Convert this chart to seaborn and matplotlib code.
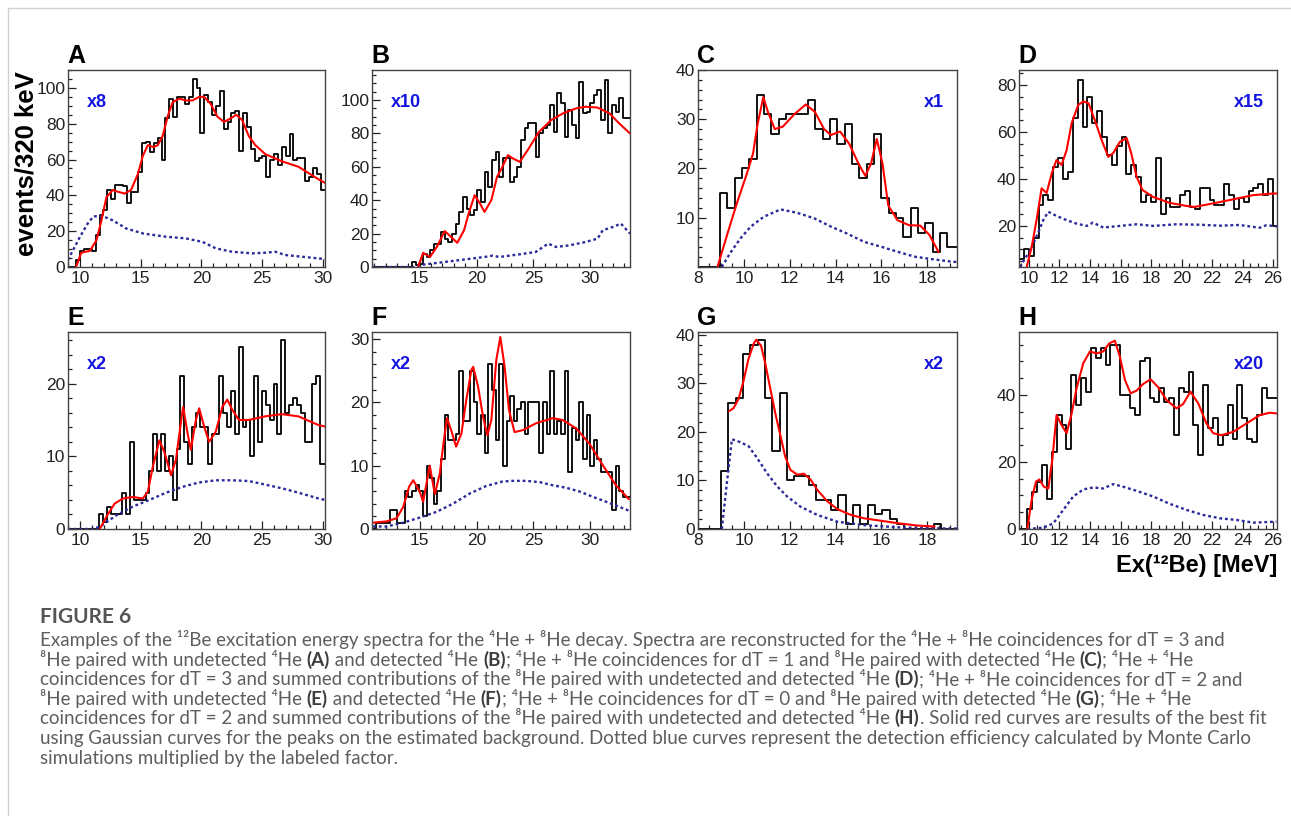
import re
import numpy as np
import pandas as pd
import matplotlib
matplotlib.use("Agg")
import matplotlib.pyplot as plt
import seaborn as sns
from matplotlib.ticker import MultipleLocator, FixedLocator
from matplotlib import font_manager
from matplotlib.lines import Line2D

BIN = 0.32  # MeV per bin (320 keV)

# ---------------- data ----------------
A_start = 9.04
A_counts = [0, 0, 4, 9, 10, 10, 9, 18, 29, 32, 43, 38, 46, 46, 45, 36, 42, 42, 53, 69, 70, 64, 69, 72, 60,
            83, 94, 84, 95, 95, 91, 95, 105, 100, 75, 96, 92, 85, 90, 98, 77, 81, 86, 87, 65, 86, 78, 66,
            59, 61, 62, 50, 60, 63, 57, 67, 62, 74, 60, 61, 61, 48, 50, 55, 52, 43]
A_fit_x = [9.66, 10.1, 10.8, 11.35, 11.76, 12.17, 12.7, 13.13, 13.67, 14.2, 14.77, 15.17, 15.58, 16.05,
           16.4, 16.8, 17.22, 17.63, 18.18, 18.73, 19.27, 19.82, 20.23, 20.78, 21.32, 21.87, 22.42, 22.88,
           23.37, 23.92, 24.46, 25.28, 26.65, 28.0, 29.66, 30.2]
A_fit_y = [0, 8, 9, 15, 26, 39, 43, 42, 41, 43, 52, 62, 68, 67, 68, 73, 84, 92, 94, 93, 93, 95, 95, 91,
           84, 81, 83, 85, 82, 73, 68, 63, 59, 56, 49, 47]
A_eff_x = [9.0, 10.0, 10.6, 11.1, 11.9, 12.7, 13.8, 15.2, 17.1, 18.7, 20.1, 21.2, 22.55, 24.2, 25.3,
           26.1, 26.9, 29.66, 30.2]
A_eff_y = [4, 17, 24, 28.3, 28.3, 26, 21.5, 18.7, 16.9, 16, 14, 10.4, 8.5, 7.6, 8, 8.5, 6.7, 4.8, 4.5]

B_start = 10.8
B_counts = [0, 0, 0, 0, 0, 0, 0, 0, 0, 0, 0, 3, 1, 2, 8, 6, 10, 14, 14, 21, 17, 15, 20, 26, 33, 42, 35,
            31, 34, 46, 39, 57, 48, 64, 69, 54, 65, 65, 51, 54, 60, 76, 83, 86, 86, 66, 80, 83, 85, 97,
            81, 104, 98, 78, 94, 85, 77, 111, 92, 93, 98, 103, 106, 88, 112, 80, 97, 93, 101, 89, 89]
B_fit_x = [14.85, 15.3, 15.9, 16.5, 17.2, 17.6, 18.3, 18.9, 19.3, 19.83, 20.3, 20.7, 21.3, 21.8, 22.2,
           22.76, 23.2, 23.8, 24.5, 25.5, 26.56, 27.6, 28.75, 29.6, 30.65, 31.7, 32.55, 33.5]
B_fit_y = [0, 8.5, 6, 12, 21.5, 19, 14.5, 22, 32, 43, 38, 33, 40, 54, 59, 67, 65, 63, 70, 81, 88, 92,
           95, 96, 95.5, 92, 86, 80]
B_eff_x = [10.8, 14.5, 15.0, 17.9, 20.9, 21.4, 22.0, 23.8, 25.2, 26.3, 27.0, 28.2, 29.6, 30.65, 31.1,
           32.0, 32.7, 33.5]
B_eff_y = [0, 0, 1.2, 3.6, 6.2, 6.8, 6.0, 7.6, 9, 14, 12, 13, 15, 17, 22, 24, 26, 20]

C_start = 8.0
C_counts = [0, 0, 0, 15, 12, 18, 20, 22, 35, 31, 27, 30, 31, 31, 31, 34, 28, 26, 30, 25, 29, 21, 18, 21,
            27, 14, 11, 10, 6, 12, 7, 9, 3, 7, 4, 4]
C_fit_x = [8.85, 9.3, 9.7, 10.1, 10.4, 10.6, 10.85, 11.05, 11.35, 11.7, 12.2, 12.7, 13.1, 13.5, 13.8,
           14.2, 14.6, 15.0, 15.3, 15.55, 15.8, 16.05, 16.3, 16.7, 17.2, 17.7, 18.1, 18.5]
C_fit_y = [0, 7, 13, 18.5, 23, 29, 34.5, 31.5, 28, 28.5, 31, 33, 31.5, 28, 26.8, 27.5, 25, 21, 18.5,
           21, 26, 21, 12.5, 9.5, 8.5, 8.4, 6.5, 3]
C_eff_x = [9.04, 9.4, 9.85, 10.3, 10.87, 11.6, 12.33, 13.06, 13.8, 14.5, 15.25, 16.0, 16.7, 17.45,
           18.2, 19.05, 19.3]
C_eff_y = [0, 2.8, 5.8, 8.2, 10.2, 11.7, 11, 9.9, 8.2, 6.8, 5.1, 4.1, 3.1, 2.1, 1.6, 1.1, 1.0]

D_start = 9.35
D_counts = [6, 10, 7, 15, 29, 33, 31, 45, 49, 40, 43, 66, 82, 62, 75, 64, 69, 58, 50, 46, 54, 58, 42,
            46, 41, 30, 33, 30, 49, 25, 32, 28, 28, 33, 35, 28, 27, 36, 36, 31, 29, 29, 38, 33, 27, 32,
            30, 35, 36, 38, 33, 40, 20]
D_fit_x = [9.85, 10.18, 10.5, 10.83, 11.16, 11.5, 11.8, 12.14, 12.47, 12.8, 13.23, 13.56, 13.9, 14.32,
           14.76, 15.2, 15.52, 15.96, 16.4, 16.7, 17.05, 17.44, 18.14, 19.23, 20.32, 20.86, 22.07,
           23.37, 24.68, 26.0, 26.25]
D_fit_y = [2.5, 11, 22.5, 36, 34, 42.5, 48, 46, 52.3, 63.8, 71.5, 73, 72.3, 65, 56.6, 49.4, 51, 55.8,
           57.4, 51, 41, 35.3, 32.3, 29.8, 28.5, 28.1, 29.6, 31.3, 33.1, 33.8, 33.8]
D_eff_x = [9.4, 10.07, 10.6, 10.94, 11.27, 11.6, 12.25, 13.1, 13.78, 14.2, 14.87, 15.96, 17.05, 18.14,
           19.67, 21.2, 22.5, 23.8, 25.1, 25.56, 26.25]
D_eff_y = [2.5, 9.5, 17, 22.5, 26, 24.9, 23, 21, 20, 21.4, 19.3, 20, 20.7, 20, 20.7, 20.5, 20.1, 20.4,
           19.2, 20.3, 19.8]

E_start = 9.0
E_counts = [0, 0, 0, 0, 0, 0, 0, 0, 2, 1, 3, 2, 2, 2, 5, 2, 12, 4, 4, 4, 5, 8, 13, 8, 13, 8, 10, 4, 11,
            21, 12, 9, 14, 16, 14, 14, 9, 13, 13, 21, 16, 14, 19, 13, 25, 14, 15, 10, 21, 12, 19, 17,
            15, 20, 13, 26, 16, 17, 18, 17, 16, 12, 12, 20, 21, 9, 9]
E_fit_x = [11.62, 12.17, 12.85, 13.54, 14.36, 15.17, 15.58, 16.0, 16.54, 16.95, 17.5, 17.9, 18.4, 18.5,
           18.86, 19.13, 19.55, 19.82, 20.23, 20.64, 21.19, 21.73, 22.14, 22.55, 23.1, 23.92, 25.28,
           26.65, 28.0, 29.66, 30.2]
E_fit_y = [0, 1.7, 3.5, 4.2, 4.4, 4.2, 5.1, 8.6, 12.2, 10.6, 7.4, 9.5, 15.7, 16.8, 13.2, 10.9, 15, 16.6,
           14.1, 12, 13.4, 16.8, 17.8, 16.4, 15, 15, 15.5, 15.8, 15.5, 14.3, 14.1]
E_eff_x = [9.0, 10.9, 11.62, 13.0, 14.36, 15.72, 17.1, 18.45, 19.8, 21.2, 22.55, 23.9, 25.3, 26.65,
           28.0, 29.66, 30.2]
E_eff_y = [0, 0, 0.3, 1.9, 3.1, 4, 5, 5.8, 6.4, 6.7, 6.7, 6.6, 6.1, 5.6, 5, 4.2, 4]

F_start = 10.8
F_counts = [0, 1, 1, 1, 1, 3, 3, 1, 1, 6, 5, 6, 7, 6, 2, 10, 8, 4, 6, 11, 18, 14, 14, 15, 25, 17, 17,
            25, 20, 15, 18, 12, 26, 22, 14, 26, 10, 17, 21, 17, 19, 20, 15, 20, 20, 20, 12, 20, 15, 25,
            15, 17, 15, 25, 9, 16, 14, 20, 11, 18, 10, 14, 11, 9, 9, 9, 3, 10, 6, 5, 5]
F_fit_x = [10.9, 12.1, 12.96, 13.55, 14.07, 14.43, 15.0, 15.3, 15.65, 15.88, 16.33, 16.77, 17.12, 17.4,
           17.8, 18.2, 18.67, 19.1, 19.54, 19.7, 20.13, 20.57, 20.95, 21.3, 21.74, 22.09, 22.47, 22.85,
           23.34, 24.07, 25.24, 26.7, 27.58, 28.75, 29.92, 31.1, 32.26, 33.4]
F_fit_y = [1, 1.2, 1.7, 3.5, 6.7, 7.7, 5.9, 4.3, 7.7, 10.0, 5.5, 8.8, 14, 17.5, 15.4, 13, 15.1, 20.4,
           25.1, 25.6, 22.5, 17.7, 14.8, 17.2, 26.7, 30.3, 25.6, 18.8, 15.3, 15.6, 16.7, 17.5, 17.2,
           15.9, 13.5, 10.1, 6.9, 4.7]
F_eff_x = [10.9, 12.1, 13.55, 15.0, 16.47, 17.93, 19.4, 20.86, 22.3, 23.2, 24.37, 25.55, 26.7, 27.9,
           29.1, 30.2, 31.4, 32.55, 33.4]
F_eff_y = [0.4, 0.4, 1, 1.8, 2.7, 4, 5.6, 6.8, 7.5, 7.6, 7.6, 7.4, 6.9, 6.5, 5.9, 5.1, 4.3, 3.5, 2.9]

G_start = 8.04
G_counts = [0, 0, 0, 12, 26, 27, 36, 38, 39, 27, 16, 28, 10, 11, 11, 9, 6, 6, 4, 7, 1, 5, 1, 5, 3, 4, 2,
            1, 0, 0, 0, 0, 1, 0, 0, 0]
G_fit_x = [9.36, 9.55, 9.77, 9.99, 10.2, 10.43, 10.54, 10.75, 10.94, 11.16, 11.38, 11.6, 11.8, 12.03,
           12.33, 12.62, 12.91, 13.2, 13.64, 14.08, 14.67, 15.25, 15.98, 16.71, 17.59, 18.32]
G_fit_y = [24.3, 24.9, 26.8, 30.6, 35, 38.2, 39, 37.8, 34, 28.8, 23.7, 19.2, 15, 12.2, 11.2, 11.4, 10.2,
           8.1, 5.7, 4.1, 2.9, 2.2, 1.7, 1.2, 0.7, 0.5]
G_eff_x = [9.04, 9.26, 9.48, 9.84, 10.2, 10.57, 11.01, 11.45, 11.89, 12.47, 13.2, 14.08, 15.25, 16.71,
           18.18, 19.3]
G_eff_y = [0, 9.5, 18.5, 17.9, 17.1, 14.7, 11.5, 8.8, 6.7, 4.6, 2.9, 1.5, 0.8, 0.35, 0.15, 0.1]

H_start = 9.26
H_counts = [0, 0, 6, 11, 14, 19, 9, 23, 34, 31, 24, 46, 37, 45, 41, 54, 51, 54, 49, 55, 55, 40, 40, 36,
            34, 50, 51, 39, 38, 42, 38, 39, 28, 42, 41, 47, 31, 22, 43, 30, 33, 25, 28, 37, 27, 43, 33,
            27, 26, 34, 42, 39, 39]
H_fit_x = [9.89, 10.18, 10.46, 10.68, 10.98, 11.27, 11.53, 11.81, 12.14, 12.47, 12.8, 13.12, 13.56,
           14.0, 14.43, 14.87, 15.26, 15.63, 15.96, 16.29, 16.66, 17.05, 17.49, 17.97, 18.47, 19.01,
           19.67, 20.1, 20.58, 21.09, 21.63, 22.07, 22.61, 23.38, 24.25, 25.12, 25.78, 26.21]
H_fit_y = [0, 8.7, 14.1, 14.8, 12.6, 12.1, 20.6, 34, 31, 28.6, 34.5, 42, 49.5, 53, 52.4, 53, 55.4, 56.2,
           51.4, 44.5, 40.5, 41.3, 43.3, 44.7, 42.3, 38.5, 36, 37.3, 41, 37.5, 31.5, 28.6, 28, 29, 31.5,
           34, 34.7, 34.5]
H_eff_x = [9.9, 10.94, 11.6, 12.25, 12.9, 13.56, 14.21, 14.87, 15.52, 16.18, 17.05, 18.14, 19.23,
           20.32, 21.41, 22.5, 23.6, 24.7, 26.21]
H_eff_y = [0, 0.4, 1.7, 5.7, 9.7, 11.8, 12.4, 12.1, 13.4, 12.6, 11.4, 9.7, 7.5, 5.7, 4.2, 3.2, 2.7, 1.9,
           2.2]

FACTORS = ["x8", "x10", "x1", "x15", "x2", "x2", "x2", "x20"]
LETTERS = ["A", "B", "C", "D", "E", "F", "G", "H"]

CAPTION_TITLE = "FIGURE 6"
CAPTION_LINES = [
    "Examples of the ¹²Be excitation energy spectra for the ⁴He + ⁸He decay. Spectra are reconstructed for the ⁴He + ⁸He coincidences for dT = 3 and",
    "⁸He paired with undetected ⁴He [[(A)]] and detected ⁴He [[(B)]]; ⁴He + ⁸He coincidences for dT = 1 and ⁸He paired with detected ⁴He [[(C)]]; ⁴He + ⁴He",
    "coincidences for dT = 3 and summed contributions of the ⁸He paired with undetected and detected ⁴He [[(D)]]; ⁴He + ⁸He coincidences for dT = 2 and",
    "⁸He paired with undetected ⁴He [[(E)]] and detected ⁴He [[(F)]]; ⁴He + ⁸He coincidences for dT = 0 and ⁸He paired with detected ⁴He [[(G)]]; ⁴He + ⁴He",
    "coincidences for dT = 2 and summed contributions of the ⁸He paired with undetected and detected ⁴He [[(H)]]. Solid red curves are results of the best fit",
    "using Gaussian curves for the peaks on the estimated background. Dotted blue curves represent the detection efficiency calculated by Monte Carlo",
    "simulations multiplied by the labeled factor.",
]

# ---------------- styling / layout ----------------
sns.set_theme(style="ticks")
plt.rcParams["font.family"] = ["Liberation Sans", "DejaVu Sans"]

W, H = 1291, 816
fig = plt.figure(figsize=(W / 100, H / 100), dpi=100)
fig.patch.set_facecolor("white")

data = {
    "A": (A_start, A_counts, A_fit_x, A_fit_y, A_eff_x, A_eff_y),
    "B": (B_start, B_counts, B_fit_x, B_fit_y, B_eff_x, B_eff_y),
    "C": (C_start, C_counts, C_fit_x, C_fit_y, C_eff_x, C_eff_y),
    "D": (D_start, D_counts, D_fit_x, D_fit_y, D_eff_x, D_eff_y),
    "E": (E_start, E_counts, E_fit_x, E_fit_y, E_eff_x, E_eff_y),
    "F": (F_start, F_counts, F_fit_x, F_fit_y, F_eff_x, F_eff_y),
    "G": (G_start, G_counts, G_fit_x, G_fit_y, G_eff_x, G_eff_y),
    "H": (H_start, H_counts, H_fit_x, H_fit_y, H_eff_x, H_eff_y),
}

lefts = [68, 372, 698, 1019]
widths = [257, 258, 259, 258]
tops = [70, 332]
AX_H = 197

cfg = {
    "A": dict(xlim=(9.0, 30.2), ylim=(0, 110), xmaj=5, xmin=1, ymaj=20, ymin=5, yt=None, fside="left"),
    "B": dict(xlim=(10.8, 33.5), ylim=(0, 118), xmaj=5, xmin=1, ymaj=20, ymin=5, yt=None, fside="left"),
    "C": dict(xlim=(8.0, 19.3), ylim=(0, 40), xmaj=2, xmin=0.5, ymaj=10, ymin=2, yt=[10, 20, 30, 40], fside="right"),
    "D": dict(xlim=(9.35, 26.25), ylim=(2.5, 86.4), xmaj=2, xmin=0.5, ymaj=20, ymin=5, yt=None, fside="right"),
    "E": dict(xlim=(9.0, 30.2), ylim=(0, 27.1), xmaj=5, xmin=1, ymaj=10, ymin=2, yt=None, fside="left"),
    "F": dict(xlim=(10.8, 33.5), ylim=(0, 31.1), xmaj=5, xmin=1, ymaj=10, ymin=2, yt=None, fside="left"),
    "G": dict(xlim=(8.0, 19.3), ylim=(0, 40.6), xmaj=2, xmin=0.5, ymaj=10, ymin=2, yt=None, fside="right"),
    "H": dict(xlim=(9.35, 26.25), ylim=(0, 58.8), xmaj=2, xmin=0.5, ymaj=20, ymin=5, yt=None, fside="right"),
}

EFF_COLOR = "#2a2a9a"
FACT_COLOR = "#1515e0"

for i, key in enumerate(LETTERS):
    row, col = divmod(i, 4)
    l, w, t = lefts[col], widths[col], tops[row]
    ax = fig.add_axes([l / W, 1 - (t + AX_H) / H, w / W, AX_H / H])
    start, counts, fx, fy, ex, ey = data[key]
    nb = len(counts)
    centers = start + BIN * (np.arange(nb) + 0.5)
    df = pd.DataFrame({"E": centers, "n": np.asarray(counts, dtype=float)})
    sns.histplot(data=df, x="E", weights="n", binwidth=BIN,
                 binrange=(start, start + nb * BIN), element="step", fill=False,
                 color="black", linewidth=1.3, ax=ax)
    sns.lineplot(x=ex, y=ey, color=EFF_COLOR, linewidth=1.7, linestyle=(0, (1.2, 1.2)),
                 ax=ax, sort=False, estimator=None)
    sns.lineplot(x=fx, y=fy, color="red", linewidth=1.5, ax=ax, sort=False, estimator=None)
    c = cfg[key]
    ax.set_xlim(*c["xlim"])
    ax.set_ylim(*c["ylim"])
    ax.set_xlabel("")
    ax.set_ylabel("")
    ax.xaxis.set_major_locator(MultipleLocator(c["xmaj"]))
    ax.xaxis.set_minor_locator(MultipleLocator(c["xmin"]))
    if c["yt"] is not None:
        ax.yaxis.set_major_locator(FixedLocator(c["yt"]))
    else:
        ax.yaxis.set_major_locator(MultipleLocator(c["ymaj"]))
    ax.yaxis.set_minor_locator(MultipleLocator(c["ymin"]))
    ax.tick_params(which="both", direction="in", top=False, right=False, colors="#222222",
                   labelsize=12.5, width=0.9)
    ax.tick_params(which="major", length=6)
    ax.tick_params(which="minor", length=3)
    ax.tick_params(axis="y", pad=2)
    ax.tick_params(axis="x", pad=3)
    for s in ax.spines.values():
        s.set_color("#444444")
        s.set_linewidth(1.0)
    ax.grid(False)
    if c["fside"] == "left":
        ax.text(0.075, 0.835, FACTORS[i], transform=ax.transAxes, ha="left", va="center",
                fontsize=13, fontweight="bold", color=FACT_COLOR)
    else:
        ax.text(0.95, 0.835, FACTORS[i], transform=ax.transAxes, ha="right", va="center",
                fontsize=13, fontweight="bold", color=FACT_COLOR)
    fig.text((l - 1) / W, 1 - (t - 7) / H, key, ha="left", va="baseline", fontsize=18,
             fontweight="bold", color="black")

fig.text(27 / W, 1 - 164 / H, "events/320 keV", rotation=90, ha="center", va="center",
         fontsize=18.5, fontweight="bold", color="black")
fig.text(1277 / W, 1 - 572 / H, "Ex(¹²Be) [MeV]", ha="right", va="baseline",
         fontsize=17, fontweight="bold", color="black")

# page frame lines
fig.add_artist(Line2D([7.5 / W, 7.5 / W], [0, 1 - 8 / H], transform=fig.transFigure,
                      color="#d0d0d0", linewidth=1.0))
fig.add_artist(Line2D([7.5 / W, 1], [1 - 8 / H, 1 - 8 / H], transform=fig.transFigure,
                      color="#d0d0d0", linewidth=1.0))

# ---------------- caption ----------------
names = {f.name for f in font_manager.fontManager.ttflist}
cap_font = "Lato" if "Lato" in names else "Open Sans"
cap_family = [cap_font, "DejaVu Sans"]
renderer = fig.canvas.get_renderer()


def split_runs(line):
    parts = re.split(r"\[\[(.*?)\]\]", line)
    return [(p, j % 2 == 1) for j, p in enumerate(parts) if p]


def draw_line(x0, y0, line, size, draw=True):
    x = x0
    objs = []
    for txt, bold in split_runs(line):
        tt = fig.text(x / W, 1 - y0 / H, txt, ha="left", va="baseline", fontsize=size,
                      family=cap_family, fontweight="bold" if bold else "normal",
                      color="#3c3c3c" if bold else "#5e5e5e")
        bb = tt.get_window_extent(renderer)
        x += bb.width
        objs.append(tt)
    if not draw:
        for o in objs:
            o.remove()
    return x - x0


X0 = 40
test_size = 10.0
w_test = draw_line(X0, 700, CAPTION_LINES[4], test_size, draw=False)
cap_size = test_size * 1232.0 / w_test

fig.text(X0 / W, 1 - 623 / H, CAPTION_TITLE, ha="left", va="baseline", fontsize=15,
         family=cap_family, fontweight="bold", color="#555555")
for k, line in enumerate(CAPTION_LINES):
    draw_line(X0, 646 + k * 19.6, line, cap_size)

fig.savefig("out.png", dpi=100, facecolor="white")
